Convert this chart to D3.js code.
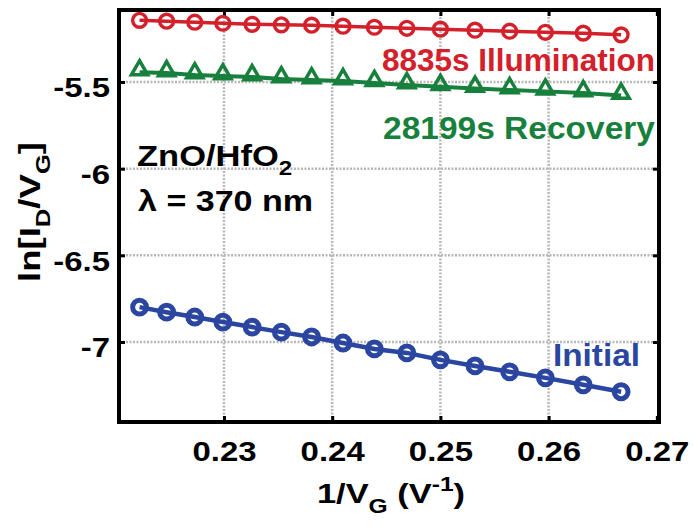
<!DOCTYPE html>
<html><head><meta charset="utf-8">
<script src="https://cdn.jsdelivr.net/npm/d3@7"></script>
<style>body{margin:0;background:#fff}svg{display:block;font-family:"Liberation Sans",Arial,sans-serif;font-weight:bold}</style>
</head><body>
<svg id="c" width="693" height="529"></svg>
<script>
const invVG = [0.2222,0.2247,0.2273,0.2299,0.2326,0.2353,0.2381,0.2410,0.2439,0.2469,0.2500,0.2532,0.2564,0.2597,0.2632,0.2667];
const illumination = [-5.144,-5.149,-5.155,-5.161,-5.167,-5.170,-5.172,-5.178,-5.184,-5.190,-5.195,-5.201,-5.207,-5.213,-5.218,-5.228];
const recovery = [-5.443,-5.448,-5.460,-5.466,-5.471,-5.483,-5.489,-5.494,-5.505,-5.517,-5.528,-5.537,-5.546,-5.554,-5.563,-5.578];
const initial = [-6.799,-6.828,-6.856,-6.885,-6.914,-6.943,-6.971,-7.006,-7.040,-7.063,-7.103,-7.138,-7.172,-7.207,-7.247,-7.287];
const xTicks = [0.23,0.24,0.25,0.26,0.27];
const yTicks = [-5.5,-6,-6.5,-7];
const colors = {red:"#d4202a", green:"#17803c", blue:"#2b46a0"};

const svg = d3.select("#c");
const L=119,R=659,T=10,B=422;
const x = d3.scaleLinear().domain([0.2203,0.2702]).range([L,R]);
const y = d3.scaleLinear().domain([-7.4616,-5.0845]).range([B,T]);
const STRETCH = 1.22;

// grid
const g = svg.append("g");
g.selectAll(".gx").data(xTicks.filter(d=>d<0.27)).join("line")
  .attr("x1",d=>x(d)).attr("x2",d=>x(d)).attr("y1",T).attr("y2",B)
  .attr("stroke","#b8b8b8").attr("stroke-width",2.5).attr("stroke-dasharray","2,1.5");
g.selectAll(".gy").data(yTicks).join("line")
  .attr("y1",d=>y(d)).attr("y2",d=>y(d)).attr("x1",L).attr("x2",R)
  .attr("stroke","#b8b8b8").attr("stroke-width",2.5).attr("stroke-dasharray","2,1.5");

// axes (inward ticks, mirrored)
const ax = [
  svg.append("g").attr("transform",`translate(0,${B})`).call(d3.axisBottom(x).tickValues(xTicks).tickSize(-6).tickPadding(20).tickFormat(d=>d.toFixed(2))),
  svg.append("g").attr("transform",`translate(0,${T})`).call(d3.axisTop(x).tickValues(xTicks).tickSize(-6).tickFormat("")),
  svg.append("g").attr("transform",`translate(${L},0)`).call(d3.axisLeft(y).tickValues(yTicks).tickSize(-6).tickPadding(9).tickFormat(d=>String(d))),
  svg.append("g").attr("transform",`translate(${R},0)`).call(d3.axisRight(y).tickValues(yTicks).tickSize(-6).tickFormat(""))
];
ax.forEach((a,i)=>{
  a.select(".domain").remove();
  a.selectAll(".tick line").attr("stroke","#000").attr("stroke-width",3);
  a.selectAll("text").attr("font-size",27).attr("font-weight","bold").attr("fill","#000").attr("font-family","Liberation Sans, Arial, sans-serif");
  if(i===2) a.selectAll("text").attr("dy","0.55em");
  a.selectAll("text").each(function(){
    const w=this.getComputedTextLength();
    if(w>0) d3.select(this).attr("textLength",w*STRETCH).attr("lengthAdjust","spacingAndGlyphs");
  });
});
svg.append("rect").attr("x",L).attr("y",T).attr("width",R-L).attr("height",B-T)
  .attr("fill","none").attr("stroke","#000").attr("stroke-width",4);

// series
const series = [
  {vals:illumination,c:colors.red,shape:"circle",lw:3.5,mw:3.4,size:150},
  {vals:recovery,c:colors.green,shape:"triangle",lw:4,mw:3.5,size:115},
  {vals:initial,c:colors.blue,shape:"circle",lw:4.5,mw:5,size:150}
];
const line = d3.line().x((d,i)=>x(invVG[i])).y(d=>y(d));
series.forEach(s=>{
  svg.append("path").datum(s.vals).attr("d",line).attr("fill","none").attr("stroke",s.c).attr("stroke-width",s.lw);
  const sym = d3.symbol().type(s.shape==="circle"?d3.symbolCircle:d3.symbolTriangle).size(s.size);
  svg.append("g").selectAll("path").data(s.vals).join("path")
    .attr("transform",(d,i)=>`translate(${x(invVG[i])},${y(d)+(s.shape==="triangle"?-2:0)})`)
    .attr("d",sym).attr("fill","none").attr("stroke",s.c).attr("stroke-width",s.mw);
});

// annotations
function t(xp,yp,txt,col,anchor,fs,len){
  const e = svg.append("text").attr("x",xp).attr("y",yp).attr("fill",col).attr("font-size",fs||32).attr("font-weight","bold").attr("text-anchor",anchor||"start").text(txt);
  if(len) e.attr("textLength",len).attr("lengthAdjust","spacingAndGlyphs");
  return e;
}
t(655,71,"8835s Illumination",colors.red,"end",32,273);
t(655,139,"28199s Recovery",colors.green,"end",32,272);
t(640,366,"Initial",colors.blue,"end",32,87);
const zg = svg.append("g").attr("transform","translate(137,166) scale(1.15,1)");
const zn = zg.append("text").attr("font-size",30).attr("font-weight","bold").text("ZnO/HfO");
zn.append("tspan").attr("dy",9).attr("font-size",21).text("2");
t(138,211,"λ = 370 nm","#000","start",30,175);

// axis labels
const xg = svg.append("g").attr("transform",`translate(391,503) scale(1.23,1)`);
const xl = xg.append("text").attr("text-anchor","middle").attr("font-size",28).attr("font-weight","bold");
xl.append("tspan").text("1/V");
xl.append("tspan").attr("dy",10).attr("font-size",20).text("G");
xl.append("tspan").attr("dy",-10).text(" (V");
xl.append("tspan").attr("dy",-12).attr("font-size",20).text("-1");
xl.append("tspan").attr("dy",12).text(")");

const yg = svg.append("g").attr("transform","translate(40,212) rotate(-90) scale(1.22,1)");
const yl = yg.append("text").attr("text-anchor","middle").attr("font-size",30).attr("font-weight","bold");
yl.append("tspan").text("ln[I");
yl.append("tspan").attr("dy",10).attr("font-size",21).text("D");
yl.append("tspan").attr("dy",-10).text("/V");
yl.append("tspan").attr("dy",10).attr("font-size",21).text("G");
yl.append("tspan").attr("dy",-10).text("]");
</script>
</body></html>
